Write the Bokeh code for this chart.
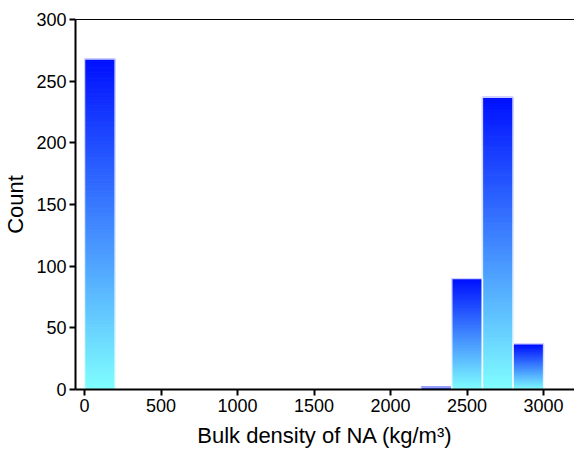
from bokeh.plotting import figure
from bokeh.models import LinearAxis, Range1d, FixedTicker
from bokeh.embed import file_html
from bokeh.resources import INLINE

# Histogram data (bin edges in kg/m3, counts)
bin_left = [0, 2200, 2400, 2600, 2800]
bin_right = [200, 2400, 2600, 2800, 3000]
counts = [268, 2, 90, 237, 37]

x_ticks = [0, 500, 1000, 1500, 2000, 2500, 3000]
y_ticks = [0, 50, 100, 150, 200, 250, 300]

p = figure(width=574, height=457, output_backend="svg", toolbar_location=None,
           x_range=Range1d(-59, 3202), y_range=Range1d(0, 300),
           min_border_left=74, min_border_right=0, min_border_top=19, min_border_bottom=68)
p.grid.visible = False
p.outline_line_color = None
p.background_fill_color = "white"

top_c = (0, 16, 255)
bot_c = (128, 255, 255)
N = 150
L, R, B, T, C = [], [], [], [], []
for l, r, c in zip(bin_left, bin_right, counts):
    for i in range(N):
        f0 = i / N
        f1 = (i + 1) / N
        L.append(l); R.append(r)
        B.append(c * f0); T.append(c * f1)
        t = 1 - (f0 + f1) / 2  # 0 at top, 1 at bottom
        col = tuple(int(round(a + (b - a) * t)) for a, b in zip(top_c, bot_c))
        C.append("#%02x%02x%02x" % col)

p.quad(left=L, right=R, bottom=B, top=T, fill_color=C, line_color=C, line_width=1)
# white separators / outline
p.quad(left=bin_left, right=bin_right, bottom=0, top=counts, fill_color=None,
       line_color="white", line_alpha=0.8, line_width=1.5)

font = "Liberation Sans"
for ax in (p.xaxis[0], p.yaxis[0]):
    ax.axis_line_width = 2
    ax.major_tick_line_width = 2
    ax.major_tick_out = 6
    ax.major_tick_in = 0
    ax.minor_tick_line_color = None
    ax.major_label_text_font = font
    ax.major_label_text_font_size = "18px"
    ax.major_label_text_color = "black"
    ax.axis_label_text_font = font
    ax.axis_label_text_font_size = "22px"
    ax.axis_label_text_font_style = "normal"
    ax.axis_label_text_color = "black"

p.xaxis[0].ticker = FixedTicker(ticks=x_ticks)
p.yaxis[0].ticker = FixedTicker(ticks=y_ticks)
p.xaxis[0].axis_label = "Bulk density of NA (kg/m³)"
p.yaxis[0].axis_label = "Count"
p.xaxis[0].major_label_standoff = 3
p.yaxis[0].major_label_standoff = 3
p.xaxis[0].axis_label_standoff = 8
p.yaxis[0].axis_label_standoff = 5

top_ax = LinearAxis(ticker=FixedTicker(ticks=[]), major_tick_line_color=None,
                    minor_tick_line_color=None, axis_line_width=1)
p.add_layout(top_ax, "above")

open("out.html", "w").write(file_html(p, INLINE))
